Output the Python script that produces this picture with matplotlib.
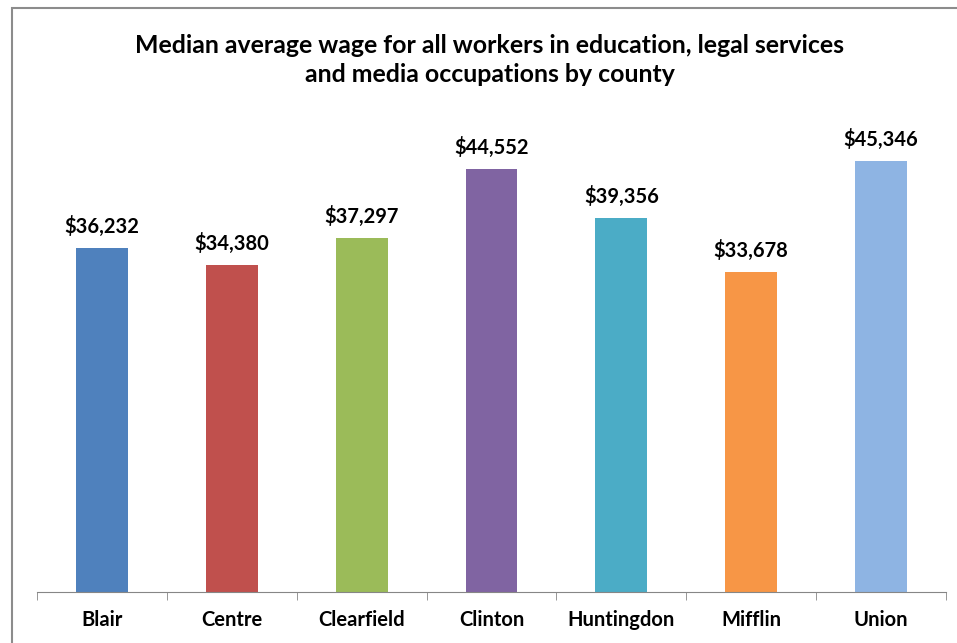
import matplotlib.pyplot as plt
from matplotlib.patches import Rectangle

# county data
counties = ['Blair', 'Centre', 'Clearfield', 'Clinton', 'Huntingdon', 'Mifflin', 'Union']
wages = [36232, 34380, 37297, 44552, 39356, 33678, 45346]
colors = ['#4F81BD', '#C0504D', '#9BBB59', '#8064A2', '#4BACC6', '#F79646', '#8EB4E3']

plt.rcParams['font.family'] = ['Lato', 'DejaVu Sans']

fig = plt.figure(figsize=(9.57, 6.43), dpi=100)
ax = fig.add_axes([37 / 957, 51 / 643, 909 / 957, 475 / 643])

x = range(len(counties))
bars = ax.bar(x, wages, width=0.4, color=colors)

# value labels above the bars
for xi, w in zip(x, wages):
    ax.text(xi, w + 1150, f'${w:,}', ha='center', va='bottom',
            fontsize=14.5, fontweight='bold')

ax.set_xlim(-0.5, len(counties) - 0.5)
ax.set_ylim(0, 50000)
ax.set_yticks([])
ax.set_xticks(x)
ax.set_xticklabels(counties, fontsize=14.5, fontweight='bold')
ax.set_xticks([i - 0.5 for i in range(len(counties) + 1)], minor=True)
ax.tick_params(axis='x', which='major', length=0, pad=13)
ax.tick_params(axis='x', which='minor', length=6, color='#868686', direction='out')

for side in ['top', 'right', 'left']:
    ax.spines[side].set_visible(False)
ax.spines['bottom'].set_color('#868686')

fig.text(0.512, 1 - 60 / 643, 'Median average wage for all workers in education, legal services\n'
         'and media occupations by county', ha='center', va='center',
         fontsize=17.9, fontweight='bold', linespacing=1.33)

# chart border (runs off the right and bottom edges)
fig.patches.append(Rectangle((12 / 957, -0.05), 1.0, 1 - 8 / 643 + 0.05,
                             transform=fig.transFigure, fill=False,
                             edgecolor='#8C8C8C', linewidth=1.5, clip_on=False))

fig.savefig('out.png', dpi=100)
